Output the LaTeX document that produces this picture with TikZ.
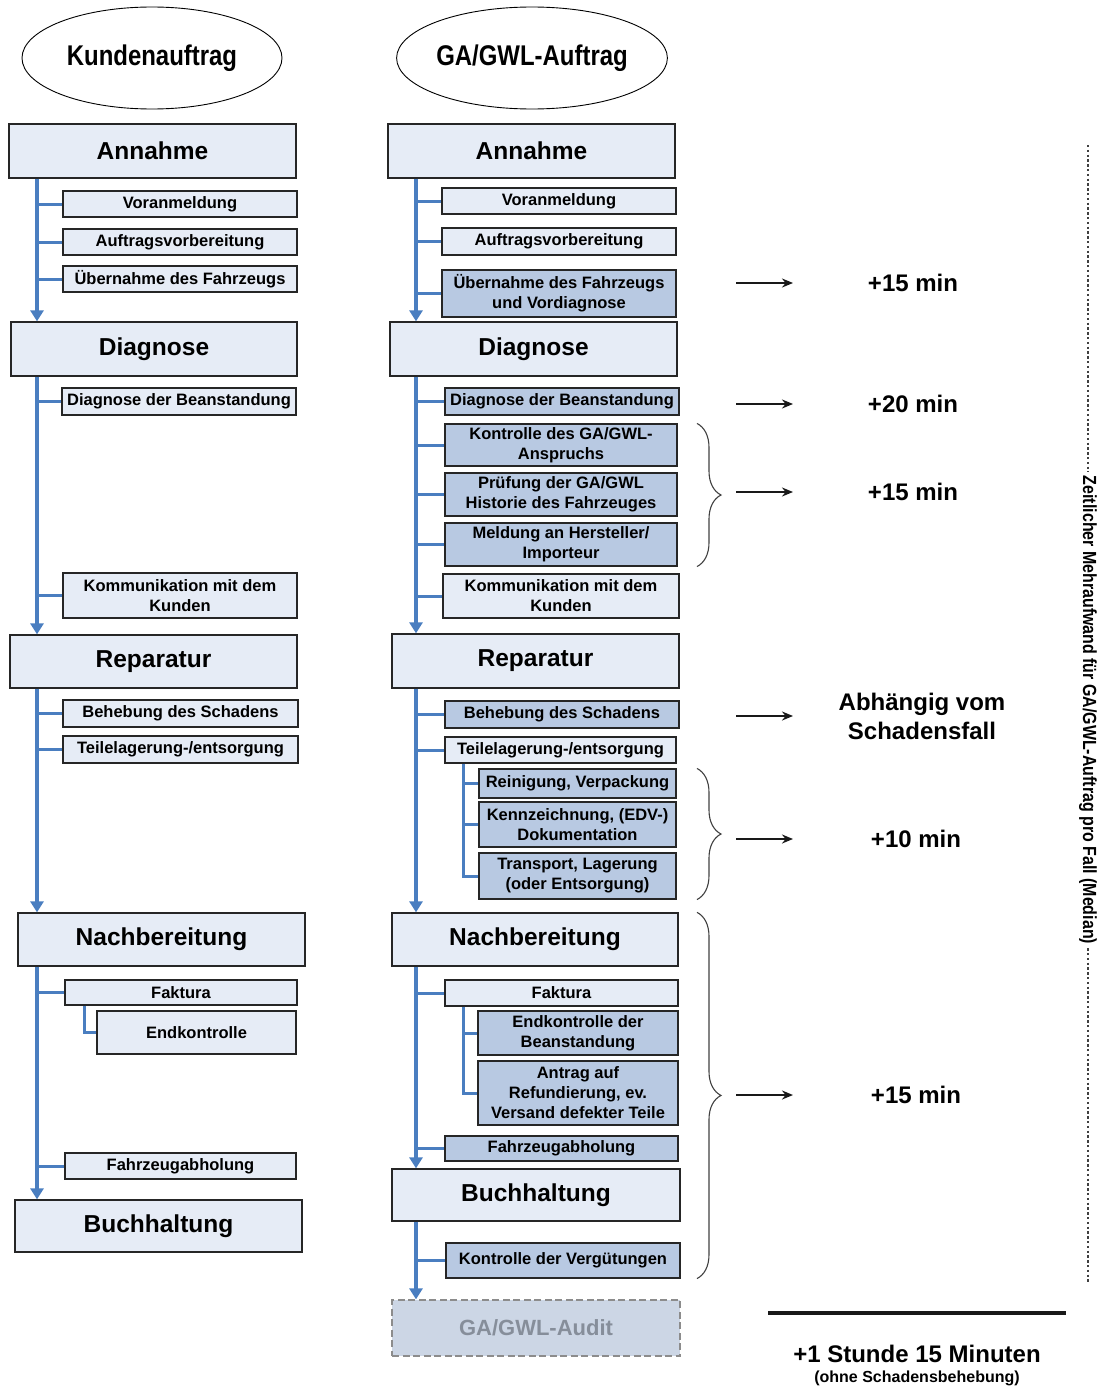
\documentclass[tikz,border=0pt]{standalone}
\usepackage{fontspec}
\setmainfont{Liberation Sans}
\newfontfamily\narrowfont[FakeStretch=0.84]{Liberation Sans}
\usepackage{tikz}
\usetikzlibrary{
    shapes.geometric,
    arrows.meta,
    positioning,
    calc,
    decorations.pathreplacing
}

\definecolor{boxlight}{RGB}{230,236,246}
\definecolor{boxdark}{RGB}{184,201,226}
\definecolor{trunkblue}{RGB}{74,126,192}
\definecolor{auditfill}{RGB}{204,214,229}
\definecolor{auditgray}{RGB}{134,142,154}

\begin{document}
\begin{tikzpicture}[
            x=1pt, y=-1pt,
            order/.style={ellipse, draw, line width=0.9pt, minimum width=260pt, minimum height=102pt, inner sep=0pt, font=\narrowfont\fontsize{28.5}{32}\selectfont\bfseries},
            phase/.style={rectangle, draw=black!85, line width=1.3pt, fill=boxlight, minimum width=287pt, minimum height=54pt, inner sep=0pt, font=\fontsize{24.5}{29}\selectfont\bfseries},
            task/.style={rectangle, draw=black!85, line width=1.1pt, fill=boxlight, minimum width=234pt, minimum height=26pt, inner sep=0pt, align=center, font=\fontsize{16.5}{20}\selectfont\bfseries},
            task_extra/.style={task, fill=boxdark},
            audit/.style={phase, draw=black!45, dash pattern=on 7pt off 3.5pt, fill=auditfill, text=auditgray, font=\fontsize{22}{26}\selectfont\bfseries},
            trunk_arrow/.style={draw=trunkblue, line width=3.5pt, -{Triangle[length=11pt, width=13pt]}},
            branch_line/.style={draw=trunkblue, line width=3pt},
            time_arrow/.style={-{Stealth[length=11pt, width=9pt]}, line width=2.2pt, black!90},
            time_label/.style={font=\fontsize{24}{29}\selectfont\bfseries, align=center},
            group_brace/.style={decorate, decoration={brace, amplitude=24pt}, line width=1.1pt, black!75},
            dot_line/.style={line width=2.4pt, black!75, dash pattern=on 2.4pt off 2.4pt}
        ]

        \useasboundingbox (0,0) rectangle (1099,1389);

        % order types
        \node[order] (customer_order) at (152,58) {Kundenauftrag};
        \node[order, minimum width=270pt] (warranty_order) at (532,58) {GA/GWL-Auftrag};

        % left column: customer order
        \node[phase] (annL) at (152.5,151) {Annahme};
        \node[task] (vorL) at (180,204) {Voranmeldung};
        \node[task] (aufL) at (180,242) {Auftragsvorbereitung};
        \node[task] (uebL) at (180,279) {Übernahme des Fahrzeugs};

        \node[phase, minimum width=286pt] (diaL) at (154,349) {Diagnose};
        \node[task, minimum height=27pt] (dbeL) at (179,401.5) {Diagnose der Beanstandung};
        \node[task, minimum height=45pt] (komL) at (180,595.5) {Kommunikation mit dem\\Kunden};

        \node[phase, minimum height=53pt] (repL) at (153.5,661.5) {Reparatur};
        \node[task, minimum width=235pt, minimum height=27pt] (behL) at (180.5,713.5) {Behebung des Schadens};
        \node[task, minimum width=235pt, minimum height=27pt] (teiL) at (180.5,749.5) {Teilelagerung-/entsorgung};

        \node[phase, minimum height=53pt] (nacL) at (161.5,939.5) {Nachbereitung};
        \node[task, minimum width=232pt, minimum height=25pt] (fakL) at (181,992.5) {Faktura};
        \node[task, minimum width=199pt, minimum height=43pt] (endL) at (196.5,1032.5) {Endkontrolle};
        \node[task, minimum width=231pt] (fahL) at (180.5,1166) {Fahrzeugabholung};

        \node[phase, minimum height=52pt] (buchL) at (158.5,1226) {Buchhaltung};

        % right column: warranty order
        \node[phase] (annR) at (531.5,151) {Annahme};
        \node[task] (vorR) at (559,201) {Voranmeldung};
        \node[task, minimum height=27pt] (aufR) at (559,241.5) {Auftragsvorbereitung};
        \node[task_extra, minimum height=47pt] (uebR) at (559,293.5) {Übernahme des Fahrzeugs\\und Vordiagnose};

        \node[phase] (diaR) at (533.5,349) {Diagnose};
        \node[task_extra, minimum height=27pt] (dbeR) at (562,401.5) {Diagnose der Beanstandung};
        \node[task_extra, minimum width=232pt, minimum height=42pt] (kgaR) at (561,445) {Kontrolle des GA/GWL-\\Anspruchs};
        \node[task_extra, minimum width=232pt, minimum height=43pt] (pruR) at (561,494.5) {Prüfung der GA/GWL\\Historie des Fahrzeuges};
        \node[task_extra, minimum width=232pt, minimum height=43pt] (melR) at (561,544.5) {Meldung an Hersteller/\\Importeur};
        \node[task, minimum width=236pt, minimum height=44pt] (komR) at (561,596) {Kommunikation mit dem\\Kunden};

        \node[phase] (repR) at (535.5,661) {Reparatur};
        \node[task_extra, minimum height=27pt] (behR) at (562,714.5) {Behebung des Schadens};
        \node[task, minimum width=231pt] (teiR) at (560.5,750) {Teilelagerung-/entsorgung};
        \node[task_extra, minimum width=197pt, minimum height=29pt] (reiR) at (577.5,783.5) {Reinigung, Verpackung};
        \node[task_extra, minimum width=197pt, minimum height=45pt] (kenR) at (577.5,824.5) {Kennzeichnung, (EDV-)\\Dokumentation};
        \node[task_extra, minimum width=197pt, minimum height=46pt] (traR) at (577.5,876) {Transport, Lagerung\\(oder Entsorgung)};

        \node[phase, minimum width=286pt, minimum height=53pt] (nacR) at (535,939.5) {Nachbereitung};
        \node[task, minimum width=233pt] (fakR) at (561.5,993) {Faktura};
        \node[task_extra, minimum width=200pt, minimum height=44pt] (ekbR) at (578,1033) {Endkontrolle der\\Beanstandung};
        \node[task_extra, minimum width=200pt, minimum height=64pt] (antR) at (578,1093) {Antrag auf\\Refundierung, ev.\\Versand defekter Teile};
        \node[task_extra, minimum width=233pt, minimum height=25pt] (fahR) at (561.5,1148.5) {Fahrzeugabholung};

        \node[phase, minimum width=288pt, minimum height=52pt] (buchR) at (536,1195) {Buchhaltung};
        \node[task_extra, minimum height=35pt] (kdvR) at (563,1260.5) {Kontrolle der Vergütungen};

        \node[audit, minimum width=288pt, minimum height=56pt] (audR) at (536,1328) {GA/GWL-Audit};

        % trunk positions
        \coordinate (trunk_left) at (37,0);
        \coordinate (trunk_right) at (416,0);
        \coordinate (sub_left) at (84,0);
        \coordinate (sub_right) at (463,0);

        % left trunk
        \draw[trunk_arrow] (annL.south -| trunk_left) -- (diaL.north -| trunk_left);
        \draw[trunk_arrow] (diaL.south -| trunk_left) -- (repL.north -| trunk_left);
        \draw[trunk_arrow] (repL.south -| trunk_left) -- (nacL.north -| trunk_left);
        \draw[trunk_arrow] (nacL.south -| trunk_left) -- (buchL.north -| trunk_left);

        \draw[branch_line] (vorL.west -| trunk_left) -- (vorL.west);
        \draw[branch_line] (aufL.west -| trunk_left) -- (aufL.west);
        \draw[branch_line] (uebL.west -| trunk_left) -- (uebL.west);
        \draw[branch_line] (dbeL.west -| trunk_left) -- (dbeL.west);
        \draw[branch_line] (komL.west -| trunk_left) -- (komL.west);
        \draw[branch_line] (behL.west -| trunk_left) -- (behL.west);
        \draw[branch_line] (teiL.west -| trunk_left) -- (teiL.west);
        \draw[branch_line] (fakL.west -| trunk_left) -- (fakL.west);
        \draw[branch_line] (fahL.west -| trunk_left) -- (fahL.west);
        \draw[branch_line] (fakL.south -| sub_left) |- (endL.west);

        % right trunk
        \draw[trunk_arrow] (annR.south -| trunk_right) -- (diaR.north -| trunk_right);
        \draw[trunk_arrow] (diaR.south -| trunk_right) -- (repR.north -| trunk_right);
        \draw[trunk_arrow] (repR.south -| trunk_right) -- (nacR.north -| trunk_right);
        \draw[trunk_arrow] (nacR.south -| trunk_right) -- (buchR.north -| trunk_right);
        \draw[trunk_arrow] (buchR.south -| trunk_right) -- (audR.north -| trunk_right);

        \draw[branch_line] (vorR.west -| trunk_right) -- (vorR.west);
        \draw[branch_line] (aufR.west -| trunk_right) -- (aufR.west);
        \draw[branch_line] (uebR.west -| trunk_right) -- (uebR.west);
        \draw[branch_line] (dbeR.west -| trunk_right) -- (dbeR.west);
        \draw[branch_line] (kgaR.west -| trunk_right) -- (kgaR.west);
        \draw[branch_line] (pruR.west -| trunk_right) -- (pruR.west);
        \draw[branch_line] (melR.west -| trunk_right) -- (melR.west);
        \draw[branch_line] (komR.west -| trunk_right) -- (komR.west);
        \draw[branch_line] (behR.west -| trunk_right) -- (behR.west);
        \draw[branch_line] (teiR.west -| trunk_right) -- (teiR.west);
        \draw[branch_line] (fakR.west -| trunk_right) -- (fakR.west);
        \draw[branch_line] (fahR.west -| trunk_right) -- (fahR.west);
        \draw[branch_line] (kdvR.west -| trunk_right) -- (kdvR.west);

        \draw[branch_line] (teiR.south -| sub_right) |- (traR.west);
        \draw[branch_line] (reiR.west -| sub_right) -- (reiR.west);
        \draw[branch_line] (kenR.west -| sub_right) -- (kenR.west);
        \draw[branch_line] (fakR.south -| sub_right) |- (antR.west);
        \draw[branch_line] (ekbR.west -| sub_right) -- (ekbR.west);

        % extra time per step
        \coordinate (arrow_start) at (736,0);
        \coordinate (arrow_end) at (793,0);
        \coordinate (brace_x) at (697,0);

        \node[time_label] (time_takeover) at (913,283) {+15 min};
        \node[time_label] (time_diagnosis) at (913,404) {+20 min};
        \node[time_label] (time_checks) at (913,492) {+15 min};
        \node[time_label] (time_repair) at (922,716) {Abhängig vom\\Schadensfall};
        \node[time_label] (time_parts) at (916,839) {+10 min};
        \node[time_label] (time_followup) at (916,1095) {+15 min};

        \draw[time_arrow] (time_takeover -| arrow_start) -- (time_takeover -| arrow_end);
        \draw[time_arrow] (time_diagnosis -| arrow_start) -- (time_diagnosis -| arrow_end);
        \draw[time_arrow] (time_checks -| arrow_start) -- (time_checks -| arrow_end);
        \draw[time_arrow] (time_repair -| arrow_start) -- (time_repair -| arrow_end);
        \draw[time_arrow] (time_parts -| arrow_start) -- (time_parts -| arrow_end);
        \draw[time_arrow] (time_followup -| arrow_start) -- (time_followup -| arrow_end);

        \draw[group_brace] (kgaR.north -| brace_x) -- (melR.south -| brace_x);
        \draw[group_brace] (reiR.north -| brace_x) -- (traR.south -| brace_x);
        \draw[group_brace] (nacR.north -| brace_x) -- (kdvR.south -| brace_x);

        % total
        \coordinate (sum_start) at (768,1313);
        \coordinate (sum_end) at (1066,1313);
        \draw[line width=4pt, black!90] (sum_start) -- (sum_end);
        \node[time_label] (total_time) at (917,1354) {+1 Stunde 15 Minuten};
        \node[font=\fontsize{16}{19}\selectfont\bfseries, below=1pt of total_time] (total_note) {(ohne Schadensbehebung)};

        % vertical caption
        \coordinate (dot_top) at (1088,145);
        \coordinate (dot_bottom) at (1088,1282);
        \node[rotate=-90, inner sep=4pt, font=\narrowfont\fontsize{19}{22}\selectfont\bfseries] (caption) at (1088,710) {Zeitlicher Mehraufwand für GA/GWL-Auftrag pro Fall (Median)};
        \draw[dot_line] (dot_top) -- (caption.west);
        \draw[dot_line] (caption.east) -- (dot_bottom);

\end{tikzpicture}
\end{document}
